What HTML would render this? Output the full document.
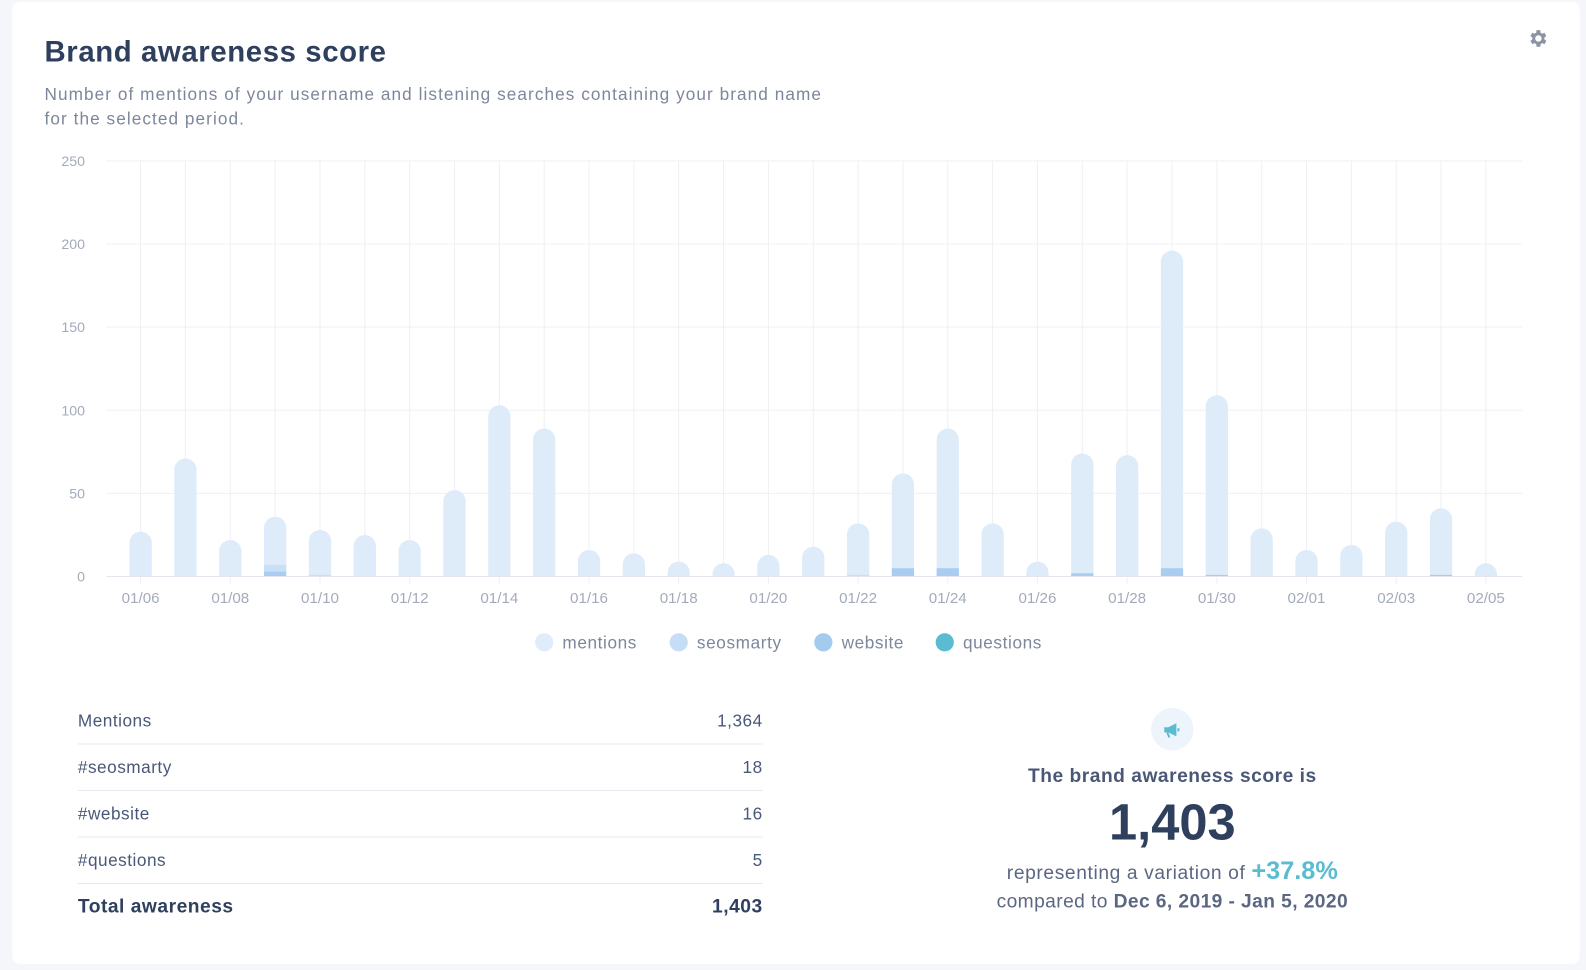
<!DOCTYPE html>
<html><head><meta charset="utf-8"><style>
body{margin:0;width:1586px;height:970px;background:#f4f6f9;font-family:"Liberation Sans",sans-serif;position:relative;overflow:hidden}
#w{position:absolute;left:0;top:0;width:1568px;height:959px;transform:scale(1.0115);transform-origin:0 0}
.card{position:absolute;left:12px;top:2px;width:1550px;height:951px;background:#fff;border-radius:8px}
.t{position:absolute;white-space:nowrap}
.r{height:45px;border-bottom:1px solid #e6e9ef;display:flex;justify-content:space-between;align-items:center}
</style></head><body><div id="w">
<div class="card"></div>
<div class="t" style="left:44px;top:36px;font-size:29px;font-weight:bold;color:#2f3f5e;letter-spacing:0.6px">Brand awareness score</div>
<div class="t" style="left:44px;top:82px;font-size:17px;line-height:24px;color:#7d879b;letter-spacing:1.05px">Number of mentions of your username and listening searches containing your brand name<br>for the selected period.</div>
<svg class="t" style="left:1509px;top:27px" width="22" height="22" viewBox="0 0 24 24"><path fill="#8b93a5" d="M19.4 13a7.5 7.5 0 0 0 0-2l2.1-1.6-2-3.5-2.5 1a7.6 7.6 0 0 0-1.7-1L15 3h-4l-.4 2.9a7.6 7.6 0 0 0-1.7 1l-2.5-1-2 3.5L6.5 11a7.5 7.5 0 0 0 0 2l-2.1 1.6 2 3.5 2.5-1a7.6 7.6 0 0 0 1.7 1L11 21h4l.4-2.9a7.6 7.6 0 0 0 1.7-1l2.5 1 2-3.5zM13 15.5a3.5 3.5 0 1 1 0-7 3.5 3.5 0 0 1 0 7z"/></svg>
<svg id="ch" class="t" style="left:0;top:0" width="1586" height="660"></svg>
<div class="t" style="left:77px;top:702px;width:677px;font-size:17px;color:#4a5878;letter-spacing:0.5px">
<div class="r" style="margin-top:-12px"><span>Mentions</span><span>1,364</span></div>
<div class="r"><span>#seosmarty</span><span>18</span></div>
<div class="r"><span>#website</span><span>16</span></div>
<div class="r"><span>#questions</span><span>5</span></div>
<div class="r" style="border:none;font-weight:bold;font-size:19px;color:#2f3f5e"><span>Total awareness</span><span>1,403</span></div>
</div>
<div class="t" style="left:1138px;top:700px;width:42px;height:42px;border-radius:50%;background:#eef4fb"></div>
<svg class="t" style="left:1148px;top:711px" width="22" height="22" viewBox="0 0 22 22"><path fill="#5bbcd1" d="M3 8h4l8-4v13l-8-4H3z"/><path d="M6 13l2 5" stroke="#5bbcd1" stroke-width="2"/><rect x="16" y="9" width="2" height="3" fill="#5bbcd1"/></svg>
<div class="t" style="left:959px;top:757px;width:400px;text-align:center;font-size:19px;font-weight:bold;color:#4a5878;letter-spacing:0.5px">The brand awareness score is</div>
<div class="t" style="left:959px;top:784px;width:400px;text-align:center;font-size:50px;font-weight:bold;color:#2f3f5e">1,403</div>
<div class="t" style="left:859px;top:847px;width:600px;text-align:center;font-size:19px;color:#5b6782;letter-spacing:0.6px">representing a variation of <b style="color:#5bbcd1;font-size:25px;letter-spacing:0">+37.8%</b></div>
<div class="t" style="left:859px;top:881px;width:600px;text-align:center;font-size:19px;color:#5b6782;letter-spacing:0.4px">compared to <b>Dec 6, 2019 - Jan 5, 2020</b></div>
</div>
<script>
var s='',base=570,k=411/250,x0=139,dx=1330/30;
for(var i=0;i<=5;i++){var y=base-i*50*k;s+='<line x1="105" x2="1505" y1="'+y+'" y2="'+y+'" stroke="#edf0f4"/><text x="84" y="'+(y+5)+'" text-anchor="end" font-size="14" fill="#a3abbb" font-family="Liberation Sans">'+(i*50)+'</text>';}
var v=[27,71,22,36,28,25,22,52,103,89,16,14,9,8,13,18,32,62,89,32,9,74,73,196,109,29,16,19,33,41,8];
var w={3:[4,3],4:[1,0],16:[1,0],17:[0,5],18:[0,5],21:[0,2],23:[0,5],24:[0,1],29:[0,1]};
var lab=['01/06','01/08','01/10','01/12','01/14','01/16','01/18','01/20','01/22','01/24','01/26','01/28','01/30','02/01','02/03','02/05'];
for(var i=0;i<31;i++){var x=x0+i*dx;s+='<line x1="'+x+'" x2="'+x+'" y1="159" y2="'+(i%2?570:578)+'" stroke="#edf0f4"/>';}
for(var i=0;i<16;i++){s+='<text x="'+(x0+2*i*dx)+'" y="596" text-anchor="middle" font-size="15" fill="#a3abbb" font-family="Liberation Sans">'+lab[i]+'</text>';}
for(var i=0;i<31;i++){var x=x0+i*dx-11,h=v[i]*k,t=base-h,r=Math.min(11,h);
s+='<path d="M'+x+' '+base+'V'+(t+r)+'A11 '+r+' 0 0 1 '+(x+22)+' '+(t+r)+'V'+base+'Z" fill="#deebf9"/>';
if(w[i]){var a=w[i][0]*k,b=w[i][1]*k;if(b)s+='<rect x="'+x+'" y="'+(base-b)+'" width="22" height="'+b+'" fill="#a9cdf0"/>';if(a)s+='<rect x="'+x+'" y="'+(base-b-a)+'" width="22" height="'+a+'" fill="#c8e0f6"/>';}}
s+='<line x1="105" x2="1505" y1="570" y2="570" stroke="#e3e7ed"/>';
var L=[[538,'mentions','#dfecfa'],[671,'seosmarty','#c5def5'],[814,'website','#a3cbee'],[934,'questions','#5bbcd1']];
L.forEach(function(l){s+='<circle cx="'+l[0]+'" cy="635" r="9" fill="'+l[2]+'"/><text x="'+(l[0]+18)+'" y="641" font-size="17" letter-spacing="0.6" fill="#7d879b" font-family="Liberation Sans">'+l[1]+'</text>';});
document.getElementById('ch').innerHTML=s;
</script>
</body></html>
